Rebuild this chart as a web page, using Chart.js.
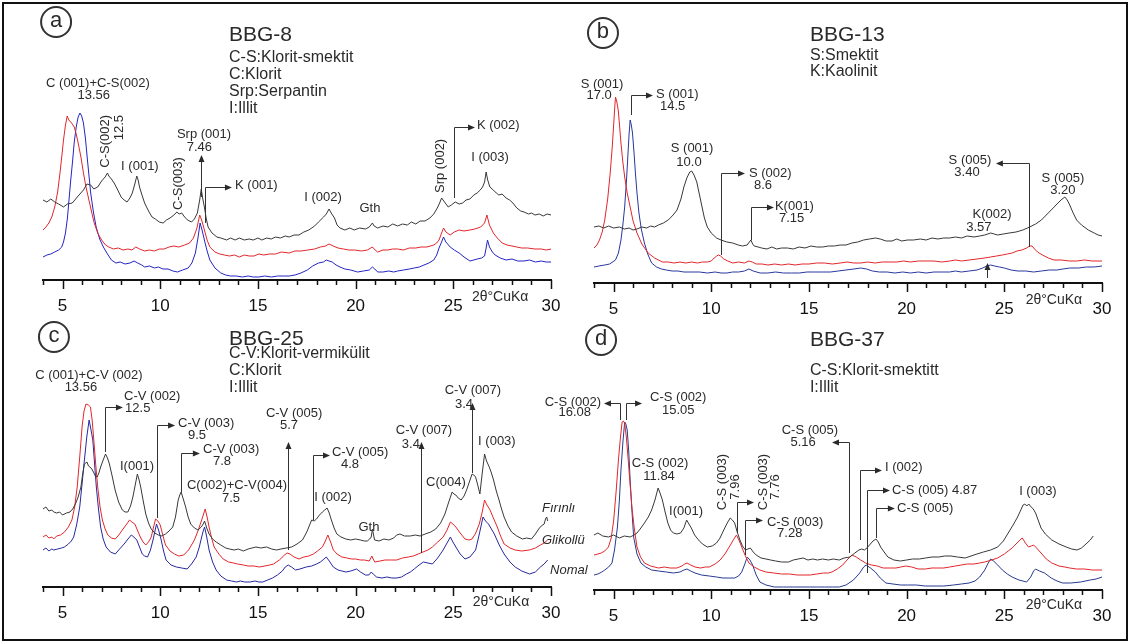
<!DOCTYPE html>
<html>
<head>
<meta charset="utf-8">
<script src="https://cdn.jsdelivr.net/npm/chart.js@4.4.1/dist/chart.umd.min.js"></script>
<style>
html, body { margin: 0; padding: 0; background: #fff; }
#fig { position: relative; width: 1130px; height: 643px; overflow: hidden; background: #fff; }
#fig canvas { position: absolute; left: 0; }
#frame { position: absolute; left: 2px; top: 2px; width: 1122px; height: 635px; border: 2px solid #111; }
</style>
</head>
<body>
<div id="fig">
  <canvas id="pa" width="1130" height="320" style="top:0"></canvas>
  <canvas id="pb" width="1130" height="320" style="top:0"></canvas>
  <canvas id="pc" width="1130" height="323" style="top:320px"></canvas>
  <canvas id="pd" width="1130" height="323" style="top:320px"></canvas>
  <div id="frame"></div>
</div>
<script>
const FONT = 'Arial, "Liberation Sans", Helvetica, sans-serif';

// intensities (a.u.) against 2θ, three treatments stacked: Fırınlı / Glikollü / Nomal
const aFirinli = [[4,80],[4.2,78],[4.4,81],[4.6,78],[4.8,76],[5.05,73],[5.25,76],[5.5,77],[5.8,84],[6.07,90],[6.25,96],[6.44,95],[6.6,91],[6.8,93],[7.0,99],[7.18,103],[7.3,107],[7.37,104],[7.5,101],[7.64,97],[7.8,91],[8.0,83],[8.15,80],[8.3,78],[8.45,82],[8.57,87],[8.7,96],[8.8,104],[8.87,100],[8.94,93],[9.05,86],[9.2,77],[9.4,69],[9.58,63],[9.75,61],[9.95,58],[10.15,57],[10.32,60],[10.5,62],[10.7,65],[10.85,68],[10.97,66],[11.1,67],[11.25,63],[11.4,60],[11.6,58],[11.75,61],[11.9,67],[12.02,80],[12.1,91],[12.17,82],[12.26,73],[12.35,62],[12.45,53],[12.65,47],[12.9,43],[13.1,42],[13.4,40],[13.6,42],[13.83,40],[14.05,42],[14.3,40],[14.55,41],[14.76,40],[15.0,42],[15.2,40],[15.45,42],[15.68,41],[15.9,43],[16.15,42],[16.4,44],[16.6,43],[16.85,45],[17.1,45],[17.35,48],[17.6,50],[17.9,54],[18.1,58],[18.36,63],[18.5,66],[18.64,71],[18.75,67],[18.92,62],[19.05,55],[19.2,52],[19.45,50],[19.7,52],[19.93,50],[20.2,52],[20.5,51],[20.7,53],[20.86,57],[20.95,54],[21.13,52],[21.4,54],[21.65,53],[21.9,56],[22.15,54],[22.4,56],[22.65,55],[22.85,58],[23.08,56],[23.3,59],[23.55,59],[23.8,62],[24.0,66],[24.18,72],[24.3,77],[24.4,82],[24.55,78],[24.74,73],[24.9,75],[25.1,78],[25.3,76],[25.48,77],[25.65,80],[25.85,81],[26.05,85],[26.22,87],[26.38,90],[26.5,93],[26.6,98],[26.68,108],[26.76,100],[26.87,93],[27.05,90],[27.2,87],[27.33,85],[27.5,86],[27.7,82],[27.88,80],[28.05,77],[28.25,72],[28.45,69],[28.62,68],[28.85,66],[29.0,67],[29.18,65],[29.4,66],[29.6,64],[29.8,66],[30,65]];
const aGlikollu = [[4,50],[4.15,53],[4.3,57],[4.45,63],[4.6,73],[4.75,88],[4.87,107],[4.97,125],[5.05,140],[5.15,155],[5.24,164],[5.32,160],[5.42,158],[5.5,156],[5.6,153],[5.7,146],[5.8,137],[5.95,122],[6.07,107],[6.2,93],[6.35,80],[6.5,67],[6.62,57],[6.8,47],[7.0,40],[7.2,35],[7.37,33],[7.6,31],[7.85,32],[8.1,30],[8.35,31],[8.55,30],[8.75,33],[8.95,31],[9.2,29],[9.45,30],[9.7,29],[9.95,31],[10.2,31],[10.45,33],[10.7,34],[10.95,33],[11.25,35],[11.5,37],[11.7,42],[11.88,52],[12.02,65],[12.12,60],[12.26,50],[12.4,40],[12.54,33],[12.8,28],[13.05,26],[13.28,25],[13.55,24],[13.8,25],[14.05,23],[14.3,25],[14.55,24],[14.8,24],[15.05,26],[15.3,25],[15.6,26],[15.9,26],[16.2,28],[16.6,27],[16.9,29],[17.2,29],[17.55,30],[17.9,31],[18.2,33],[18.45,34],[18.64,36],[18.85,34],[19.1,32],[19.38,31],[19.65,30],[19.95,30],[20.3,29],[20.6,30],[20.86,33],[21.0,30],[21.13,28],[21.4,30],[21.65,30],[21.9,31],[22.15,31],[22.45,30],[22.75,32],[23.08,32],[23.35,33],[23.65,33],[24.0,35],[24.15,37],[24.27,40],[24.4,47],[24.5,52],[24.62,48],[24.84,45],[25.05,48],[25.3,50],[25.55,49],[25.85,50],[26.1,51],[26.4,53],[26.6,57],[26.72,65],[26.85,55],[27.05,47],[27.25,42],[27.5,37],[27.75,35],[28.0,34],[28.25,33],[28.5,32],[28.8,32],[29.18,31],[29.5,31],[29.75,30],[30,31]];
const aNomal = [[4,23],[4.2,25],[4.4,26],[4.6,28],[4.8,30],[4.96,33],[5.05,38],[5.15,47],[5.25,62],[5.33,80],[5.42,100],[5.52,120],[5.6,138],[5.7,153],[5.8,163],[5.89,167],[5.98,164],[6.07,157],[6.17,142],[6.26,123],[6.35,105],[6.44,87],[6.58,68],[6.72,53],[6.9,41],[7.09,33],[7.3,26],[7.5,20],[7.73,17],[7.95,18],[8.2,16],[8.45,17],[8.66,19],[8.85,17],[9.05,15],[9.2,13],[9.45,14],[9.7,12],[9.9,13],[10.14,11],[10.4,11],[10.65,9],[10.88,8],[11.15,10],[11.43,12],[11.62,17],[11.8,27],[11.93,42],[12.04,57],[12.14,50],[12.26,40],[12.4,29],[12.54,20],[12.8,12],[13.1,7],[13.35,5],[13.6,4],[13.9,4],[14.2,3],[14.5,4],[14.76,3],[15.05,3],[15.35,4],[15.7,3],[16.0,4],[16.3,4],[16.6,4],[16.9,5],[17.2,7],[17.53,10],[17.8,14],[18.1,17],[18.35,18],[18.5,20],[18.64,19],[18.8,18],[19.0,15],[19.2,13],[19.45,11],[19.75,10],[20.1,8],[20.4,9],[20.7,10],[20.86,13],[20.98,11],[21.13,8],[21.4,8],[21.7,9],[21.95,8],[22.15,9],[22.45,10],[22.75,11],[23.0,12],[23.26,13],[23.5,15],[23.75,17],[24.0,20],[24.15,25],[24.27,32],[24.4,38],[24.5,43],[24.62,38],[24.84,33],[25.05,30],[25.3,27],[25.55,23],[25.85,19],[26.05,20],[26.22,21],[26.45,22],[26.6,24],[26.68,32],[26.75,40],[26.85,33],[27.0,28],[27.14,25],[27.4,22],[27.7,20],[28.0,21],[28.3,19],[28.62,19],[28.9,20],[29.2,18],[29.5,19],[29.75,18],[30,18]];

const bFirinli = [[4,56],[4.25,57],[4.5,55],[4.75,57],[5.0,55],[5.3,56],[5.55,54],[5.8,55],[6.0,53],[6.2,54],[6.45,56],[6.7,55],[6.9,57],[7.1,56],[7.3,58],[7.55,60],[7.8,63],[8.05,68],[8.25,73],[8.45,84],[8.6,96],[8.75,105],[8.9,111],[9.0,112],[9.12,108],[9.26,101],[9.4,88],[9.53,76],[9.65,65],[9.8,56],[10.0,50],[10.27,45],[10.5,43],[10.8,41],[11.1,40],[11.38,38],[11.6,37],[11.84,38],[11.95,41],[12.03,43],[12.12,39],[12.2,37],[12.4,36],[12.58,35],[12.85,34],[13.1,36],[13.35,34],[13.6,35],[13.9,35],[14.2,34],[14.5,36],[14.8,35],[15.1,37],[15.4,36],[15.7,36],[16.0,37],[16.3,37],[16.6,38],[16.9,38],[17.2,40],[17.5,41],[17.8,43],[18.1,44],[18.4,45],[18.65,44],[18.95,42],[19.25,42],[19.5,44],[19.75,42],[20.05,43],[20.35,43],[20.7,44],[21.0,43],[21.3,45],[21.6,44],[21.9,45],[22.2,45],[22.5,46],[22.8,45],[23.1,47],[23.45,46],[23.74,47],[24.0,48],[24.3,50],[24.48,49],[24.66,48],[24.95,49],[25.25,50],[25.6,51],[25.95,53],[26.3,56],[26.6,59],[26.9,63],[27.15,68],[27.4,73],[27.65,78],[27.9,83],[28.1,86],[28.22,83],[28.35,78],[28.5,71],[28.7,63],[28.95,58],[29.3,53],[29.6,50],[29.8,48],[30,47]];
const bGlikollu = [[4,35],[4.15,38],[4.28,43],[4.42,51],[4.55,63],[4.7,84],[4.83,110],[4.93,135],[5.0,156],[5.06,175],[5.1,186],[5.17,181],[5.24,173],[5.31,157],[5.38,140],[5.47,122],[5.57,106],[5.7,90],[5.85,76],[6.0,62],[6.2,50],[6.45,39],[6.77,30],[7.1,25],[7.5,21],[7.8,21],[8.1,20],[8.4,21],[8.7,20],[9.0,21],[9.3,20],[9.55,21],[9.8,21],[10.0,22],[10.15,25],[10.28,27],[10.36,28],[10.48,27],[10.64,24],[10.85,22],[11.1,20],[11.4,21],[11.7,20],[11.93,22],[12.1,21],[12.3,19],[12.6,19],[12.9,18],[13.25,19],[13.6,18],[13.95,19],[14.3,18],[14.65,19],[15.0,19],[15.4,20],[15.8,20],[16.2,19],[16.6,20],[16.95,21],[17.3,20],[17.65,20],[18.0,21],[18.4,20],[18.75,21],[19.1,21],[19.5,21],[19.85,22],[20.2,21],[20.6,22],[21,22],[21.4,22],[21.8,21],[22.2,22],[22.5,23],[22.8,22],[23.2,23],[23.6,24],[24.0,25],[24.3,26],[24.6,27],[24.9,28],[25.15,29],[25.4,30],[25.65,32],[25.9,33],[26.14,35],[26.3,37],[26.42,37],[26.55,34],[26.7,31],[26.95,28],[27.25,25],[27.55,23],[27.9,23],[28.35,22],[28.7,22],[29.1,23],[29.5,22],[30,22]];
const bNomal = [[4,16],[4.25,17],[4.55,18],[4.8,19],[5.1,23],[5.25,30],[5.38,43],[5.47,57],[5.57,76],[5.67,105],[5.75,133],[5.8,150],[5.85,163],[5.91,158],[5.97,150],[6.05,130],[6.12,110],[6.2,90],[6.3,70],[6.42,54],[6.58,40],[6.75,29],[6.95,20],[7.2,16],[7.45,14],[7.7,13],[8.0,12],[8.3,12],[8.6,11],[9.0,11],[9.4,11],[9.8,10],[10.2,11],[10.5,10],[10.8,10],[11.1,11],[11.4,11],[11.7,12],[11.93,14],[12.15,12],[12.5,10],[12.9,10],[13.3,11],[13.7,10],[14.1,10],[14.5,10],[14.9,11],[15.3,11],[15.7,11],[16.1,11],[16.5,12],[16.9,13],[17.3,14],[17.65,15],[17.95,14],[18.25,12],[18.6,11],[19.0,11],[19.4,10],[19.8,11],[20.2,10],[20.6,11],[21,10],[21.4,11],[21.8,11],[22.2,11],[22.5,12],[22.8,11],[23.2,12],[23.6,13],[23.9,15],[24.1,17],[24.3,18],[24.5,17],[24.75,16],[25,15],[25.35,13],[25.7,12],[26.1,12],[26.5,11],[26.9,12],[27.3,13],[27.7,13],[28.0,14],[28.35,15],[28.8,15],[29.2,16],[29.6,16],[30,17]];

const cFirinli = [[4,78],[4.15,80],[4.3,76],[4.45,77],[4.55,75],[4.7,74],[4.85,75],[5.0,72],[5.2,74],[5.38,75],[5.52,78],[5.66,83],[5.8,90],[5.94,100],[6.03,113],[6.12,123],[6.25,125],[6.33,121],[6.4,120],[6.5,118],[6.58,115],[6.68,111],[6.77,110],[6.86,114],[6.95,120],[7.08,127],[7.2,133],[7.3,129],[7.4,123],[7.55,110],[7.69,97],[7.87,85],[8.06,77],[8.2,75],[8.34,75],[8.48,81],[8.6,90],[8.72,102],[8.83,113],[8.92,107],[9.0,100],[9.13,86],[9.26,73],[9.4,64],[9.54,58],[9.72,54],[9.9,52],[10.08,51],[10.27,53],[10.45,56],[10.64,60],[10.78,70],[10.92,87],[11.0,92],[11.07,95],[11.18,88],[11.3,80],[11.43,70],[11.56,63],[11.75,59],[11.93,57],[12.1,60],[12.2,63],[12.27,66],[12.38,59],[12.5,53],[12.68,48],[12.86,45],[13.1,42],[13.35,39],[13.55,38],[13.78,37],[14.0,38],[14.25,36],[14.5,38],[14.7,39],[14.9,40],[15.15,39],[15.44,40],[15.7,38],[15.95,37],[16.18,38],[16.45,39],[16.73,40],[17.0,43],[17.28,47],[17.5,55],[17.75,67],[17.88,66],[18.0,68],[18.15,72],[18.3,75],[18.42,77],[18.54,79],[18.65,74],[18.76,67],[18.9,59],[19.04,53],[19.25,50],[19.5,48],[19.75,47],[20.0,48],[20.24,47],[20.45,46],[20.6,46],[20.72,48],[20.8,50],[20.86,58],[20.92,52],[20.97,47],[21.2,46],[21.45,48],[21.7,47],[21.95,49],[22.1,52],[22.27,53],[22.5,51],[22.8,51],[23.05,52],[23.3,51],[23.56,53],[23.85,55],[24.1,58],[24.35,64],[24.57,73],[24.75,84],[24.94,95],[25.03,93],[25.13,92],[25.25,89],[25.4,87],[25.55,91],[25.68,97],[25.82,105],[25.96,113],[26.05,112],[26.14,110],[26.25,102],[26.36,93],[26.47,112],[26.6,133],[26.7,126],[26.84,120],[26.95,114],[27.06,107],[27.2,96],[27.34,87],[27.47,78],[27.6,70],[27.8,61],[27.98,55],[28.25,51],[28.54,48],[28.75,49],[29.0,48],[29.2,53],[29.37,58],[29.5,61],[29.65,63],[29.72,68],[29.78,70],[29.83,66]];
const cGlikollu = [[4,50],[4.15,52],[4.3,49],[4.45,50],[4.55,48],[4.7,51],[4.9,52],[5.1,55],[5.3,60],[5.48,67],[5.62,80],[5.75,100],[5.88,130],[6.0,160],[6.1,176],[6.2,183],[6.32,182],[6.43,180],[6.52,166],[6.6,147],[6.7,122],[6.8,100],[6.92,80],[7.04,67],[7.18,58],[7.32,52],[7.5,49],[7.7,48],[7.88,52],[8.06,57],[8.25,62],[8.43,67],[8.55,65],[8.7,63],[8.85,56],[8.98,50],[9.12,45],[9.26,42],[9.4,45],[9.54,50],[9.66,60],[9.76,68],[9.88,66],[10.0,62],[10.13,52],[10.27,42],[10.5,36],[10.73,33],[10.95,31],[11.2,32],[11.45,37],[11.75,47],[11.95,57],[12.12,67],[12.22,73],[12.3,78],[12.4,70],[12.5,60],[12.63,49],[12.76,40],[13.0,33],[13.22,28],[13.5,25],[13.75,24],[13.96,23],[14.25,22],[14.5,21],[14.8,21],[15.07,20],[15.35,21],[15.6,22],[15.8,23],[16.1,27],[16.36,32],[16.5,34],[16.64,33],[16.85,30],[17.1,28],[17.35,30],[17.6,31],[17.84,33],[18.05,36],[18.3,40],[18.45,46],[18.58,52],[18.72,45],[18.86,37],[19.05,33],[19.3,30],[19.55,29],[19.8,28],[20.0,28],[20.24,27],[20.45,27],[20.7,26],[20.83,31],[20.9,28],[20.98,25],[21.25,26],[21.5,27],[21.8,27],[22.1,27],[22.4,29],[22.7,30],[22.95,31],[23.2,33],[23.45,35],[23.7,37],[23.93,40],[24.2,45],[24.48,50],[24.68,57],[24.85,65],[24.98,63],[25.13,60],[25.35,54],[25.6,48],[25.8,47],[25.96,48],[26.15,54],[26.33,63],[26.48,75],[26.6,87],[26.72,82],[26.88,77],[27.05,69],[27.25,60],[27.42,51],[27.6,43],[27.9,39],[28.17,37],[28.5,36],[28.9,37],[29.2,39],[29.46,42],[29.65,44],[29.83,47]];
const cNomal = [[4,37],[4.15,39],[4.3,36],[4.45,38],[4.55,37],[4.75,38],[4.95,39],[5.1,40],[5.3,43],[5.45,46],[5.57,50],[5.72,62],[5.88,80],[6.0,103],[6.12,127],[6.24,150],[6.36,167],[6.45,158],[6.55,147],[6.64,123],[6.73,100],[6.84,78],[6.95,60],[7.08,48],[7.23,40],[7.45,35],[7.7,33],[7.92,38],[8.15,43],[8.35,48],[8.52,52],[8.65,50],[8.8,47],[8.94,40],[9.08,33],[9.2,31],[9.35,30],[9.5,37],[9.63,47],[9.72,55],[9.81,63],[9.93,56],[10.05,47],[10.17,36],[10.3,27],[10.55,22],[10.83,20],[11.1,19],[11.38,18],[11.6,23],[11.84,30],[12.0,40],[12.12,50],[12.2,56],[12.27,60],[12.38,50],[12.5,37],[12.68,25],[12.86,17],[13.1,11],[13.4,7],[13.65,6],[13.9,5],[14.1,6],[14.33,5],[14.6,5],[14.85,6],[15.05,5],[15.25,5],[15.5,7],[15.75,9],[16.0,12],[16.25,16],[16.4,20],[16.55,22],[16.72,20],[16.92,17],[17.15,18],[17.47,20],[17.75,21],[18.0,23],[18.2,25],[18.38,28],[18.5,30],[18.65,26],[18.86,20],[19.1,17],[19.3,16],[19.5,15],[19.75,16],[20.05,18],[20.25,15],[20.5,12],[20.68,12],[20.8,15],[20.9,13],[21.07,10],[21.35,9],[21.6,10],[21.85,9],[22.1,9],[22.35,10],[22.6,13],[22.8,15],[23.0,18],[23.25,22],[23.47,25],[23.7,24],[23.93,23],[24.2,29],[24.48,37],[24.68,44],[24.85,50],[24.98,45],[25.13,40],[25.35,33],[25.6,28],[25.85,30],[26.14,37],[26.32,52],[26.52,70],[26.65,66],[26.8,63],[26.95,58],[27.1,53],[27.35,42],[27.6,33],[27.9,25],[28.17,20],[28.5,16],[28.9,13],[29.2,15],[29.46,20],[29.65,23],[29.83,27]];

const dFirinli = [[4,55],[4.2,57],[4.45,54],[4.74,53],[5.0,55],[5.3,52],[5.55,54],[5.85,53],[6.05,55],[6.2,57],[6.4,62],[6.58,67],[6.78,73],[6.95,80],[7.12,90],[7.28,102],[7.38,97],[7.5,90],[7.64,78],[7.78,67],[7.92,60],[8.06,57],[8.25,56],[8.43,57],[8.6,62],[8.74,70],[8.86,66],[8.98,62],[9.15,55],[9.35,50],[9.55,46],[9.8,43],[10.05,44],[10.27,47],[10.45,52],[10.64,60],[10.82,67],[10.97,72],[11.08,70],[11.2,67],[11.33,58],[11.47,50],[11.6,44],[11.75,40],[11.88,41],[12.0,42],[12.15,38],[12.3,35],[12.55,32],[12.8,31],[13.04,30],[13.3,29],[13.6,28],[13.96,28],[14.2,30],[14.45,31],[14.7,32],[14.95,30],[15.2,31],[15.44,30],[15.7,31],[16.0,30],[16.25,31],[16.55,30],[16.8,32],[17.1,33],[17.35,37],[17.56,40],[17.7,41],[17.84,40],[17.97,42],[18.1,45],[18.28,49],[18.43,51],[18.55,48],[18.67,43],[18.85,38],[19.04,33],[19.35,30],[19.68,29],[20.0,30],[20.3,31],[20.65,31],[20.97,32],[21.3,33],[21.65,33],[21.95,34],[22.27,34],[22.6,33],[23.0,32],[23.3,34],[23.6,36],[23.93,38],[24.3,40],[24.66,43],[24.95,49],[25.2,57],[25.45,65],[25.68,73],[25.82,79],[25.96,85],[26.05,86],[26.15,84],[26.25,86],[26.33,84],[26.48,81],[26.6,77],[26.75,69],[26.88,62],[27.1,56],[27.43,50],[27.8,46],[28.17,43],[28.45,41],[28.72,40],[28.95,42],[29.18,46],[29.4,50],[29.55,54]];
const dGlikollu = [[4,35],[4.2,36],[4.37,37],[4.55,39],[4.74,43],[4.88,52],[5.01,70],[5.13,98],[5.25,130],[5.35,152],[5.44,168],[5.5,169],[5.57,167],[5.66,152],[5.75,130],[5.85,105],[5.94,83],[6.06,62],[6.2,43],[6.38,33],[6.58,27],[6.9,24],[7.3,22],[7.6,23],[7.9,22],[8.24,22],[8.5,24],[8.64,26],[8.76,27],[8.95,25],[9.17,23],[9.45,22],[9.7,23],[9.9,23],[10.2,26],[10.46,30],[10.7,36],[10.92,43],[11.1,49],[11.29,55],[11.42,50],[11.56,43],[11.75,34],[11.93,27],[12.2,23],[12.49,20],[12.8,18],[13.2,17],[13.6,16],[14.0,16],[14.4,15],[14.75,15],[15.07,15],[15.4,16],[15.75,17],[16.0,17],[16.18,18],[16.45,21],[16.73,25],[16.95,30],[17.2,35],[17.42,33],[17.65,30],[17.9,27],[18.2,25],[18.5,24],[18.8,22],[19.13,22],[19.45,22],[19.7,23],[19.96,24],[20.25,23],[20.6,21],[20.95,21],[21.3,22],[21.6,22],[21.9,22],[22.2,23],[22.5,24],[22.8,25],[23.1,26],[23.45,26],[23.74,27],[24.0,28],[24.35,30],[24.66,32],[25.0,36],[25.2,39],[25.4,42],[25.65,47],[25.8,50],[25.92,52],[26.08,47],[26.24,43],[26.38,44],[26.5,45],[26.7,41],[26.88,37],[27.15,31],[27.43,27],[27.8,24],[28.1,23],[28.35,22],[28.7,21],[29.1,21],[29.5,20],[30,20]];
const dNomal = [[4,15],[4.2,16],[4.4,18],[4.55,20],[4.75,23],[4.92,27],[5.05,40],[5.2,63],[5.3,90],[5.38,120],[5.48,148],[5.57,168],[5.63,166],[5.7,160],[5.78,138],[5.85,110],[5.94,80],[6.03,53],[6.2,36],[6.4,27],[6.65,23],[6.95,20],[7.3,19],[7.7,18],[8.06,17],[8.4,18],[8.6,20],[8.76,21],[8.95,19],[9.17,17],[9.5,15],[9.9,14],[10.27,13],[10.6,12],[10.9,12],[11.2,12],[11.4,14],[11.56,18],[11.72,26],[11.84,33],[11.98,30],[12.12,25],[12.3,15],[12.49,8],[12.8,5],[13.23,3],[13.7,3],[14.2,3],[14.7,3],[15.1,3],[15.44,3],[15.8,3],[16.2,3],[16.55,3],[16.9,5],[17.28,10],[17.6,17],[17.8,23],[17.93,25],[18.15,22],[18.4,18],[18.65,12],[18.94,7],[19.3,6],[19.7,5],[20.05,5],[20.5,5],[20.95,4],[21.4,4],[21.9,4],[22.4,5],[22.8,6],[23.2,7],[23.5,9],[23.74,13],[24.0,20],[24.15,26],[24.3,31],[24.45,29],[24.66,25],[24.9,20],[25.15,16],[25.4,13],[25.75,10],[26.14,8],[26.35,13],[26.5,19],[26.6,21],[26.8,19],[27.06,17],[27.4,12],[27.7,9],[27.99,7],[28.4,7],[28.9,8],[29.4,10],[29.7,11],[30,13]];

const thetaTicks = [4,5,6,7,8,9,10,11,12,13,14,15,16,17,18,19,20,21,22,23,24,25,26,27,28,29,30];

// annotations, placed in (2θ, intensity) units
const aNotes = [
  {k:'circ', s:'a', x:4.67, y:258},
  {k:'t', s:'BBG-8', x:13.52, y:245, a:'l', f:21},
  {k:'t', s:'C-S:Klorit-smektit', x:13.52, y:222, a:'l', f:16},
  {k:'t', s:'C:Klorit', x:13.52, y:205, a:'l', f:16},
  {k:'t', s:'Srp:Serpantin', x:13.52, y:188, a:'l', f:16},
  {k:'t', s:'I:Illit', x:13.52, y:171, a:'l', f:16},
  {k:'t', s:'C (001)+C-S(002)', x:6.81, y:197},
  {k:'t', s:'13.56', x:6.6, y:185},
  {k:'r', s:'C-S(002)', x:7.22, y:165, a:'r'},
  {k:'r', s:'12.5', x:7.89, y:165, a:'r'},
  {k:'t', s:'I (001)', x:8.96, y:114},
  {k:'r', s:'C-S(003)', x:10.91, y:70, a:'l'},
  {k:'t', s:'Srp (001)', x:12.24, y:146},
  {k:'t', s:'7.46', x:12.0, y:133},
  {k:'up', x:12.09, y1:83, y2:125},
  {k:'el', x:12.29, y1:57, y2:93, x2:13.67},
  {k:'t', s:'K (001)', x:13.83, y:95, a:'l'},
  {k:'t', s:'I (002)', x:18.33, y:83},
  {k:'t', s:'Gth', x:20.73, y:72},
  {k:'r', s:'Srp (002)', x:24.32, y:87, a:'l'},
  {k:'el', x:25.03, y1:82, y2:153, x2:26.11},
  {k:'t', s:'K (002)', x:26.21, y:155, a:'l'},
  {k:'t', s:'I (003)', x:26.88, y:123},
  {k:'t', s:'2θ°CuKα', x:27.4, y:-17, f:14}
];
const bNotes = [
  {k:'circ', s:'b', x:4.46, y:250},
  {k:'t', s:'BBG-13', x:15.05, y:248, a:'l', f:21},
  {k:'t', s:'S:Smektit', x:15.05, y:227, a:'l', f:16},
  {k:'t', s:'K:Kaolinit', x:15.05, y:211, a:'l', f:16},
  {k:'t', s:'S (001)', x:4.41, y:199},
  {k:'t', s:'17.0', x:4.26, y:188},
  {k:'el', x:5.89, y1:168, y2:188, x2:7.02},
  {k:'t', s:'S (001)', x:7.17, y:189, a:'l'},
  {k:'t', s:'14.5', x:7.38, y:177, a:'l'},
  {k:'t', s:'S (001)', x:9.02, y:135},
  {k:'t', s:'10.0', x:8.86, y:121},
  {k:'el', x:10.5, y1:28, y2:110, x2:11.73},
  {k:'t', s:'S (002)', x:11.93, y:110, a:'l'},
  {k:'t', s:'8.6', x:12.19, y:98, a:'l'},
  {k:'el', x:12.03, y1:43, y2:76, x2:13.21},
  {k:'t', s:'K(001)', x:13.26, y:77, a:'l'},
  {k:'t', s:'7.15', x:13.47, y:65, a:'l'},
  {k:'t', s:'K(002)', x:24.37, y:69},
  {k:'t', s:'3.57', x:23.7, y:56},
  {k:'up', x:24.11, y1:5, y2:20},
  {k:'el', x:26.26, y1:36, y2:120, x2:24.57},
  {k:'t', s:'S (005)', x:23.24, y:123},
  {k:'t', s:'3.40', x:23.09, y:111},
  {k:'t', s:'S (005)', x:28.0, y:105},
  {k:'t', s:'3.20', x:28.0, y:93},
  {k:'t', s:'2θ°CuKα', x:27.54, y:-17, f:14}
];
const cNotes = [
  {k:'circ', s:'c', x:4.56, y:250},
  {k:'t', s:'BBG-25', x:13.52, y:248, a:'l', f:21},
  {k:'t', s:'C-V:Klorit-vermikülit', x:13.52, y:233, a:'l', f:16},
  {k:'t', s:'C:Klorit', x:13.52, y:216, a:'l', f:16},
  {k:'t', s:'I:Illit', x:13.52, y:199, a:'l', f:16},
  {k:'t', s:'C (001)+C-V (002)', x:6.35, y:212},
  {k:'t', s:'13.56', x:5.94, y:200},
  {k:'el', x:7.17, y1:135, y2:180, x2:8.09},
  {k:'t', s:'C-V (002)', x:8.15, y:191, a:'l'},
  {k:'t', s:'12.5', x:8.2, y:179, a:'l'},
  {k:'t', s:'I(001)', x:8.81, y:121},
  {k:'el', x:9.83, y1:69, y2:162, x2:10.76},
  {k:'t', s:'C-V (003)', x:10.91, y:164, a:'l'},
  {k:'t', s:'9.5', x:11.42, y:152, a:'l'},
  {k:'el', x:11.06, y1:95, y2:134, x2:12.03},
  {k:'t', s:'C-V (003)', x:12.19, y:138, a:'l'},
  {k:'t', s:'7.8', x:12.7, y:126, a:'l'},
  {k:'t', s:'C(002)+C-V(004)', x:13.93, y:102},
  {k:'t', s:'7.5', x:13.62, y:89},
  {k:'up', x:16.54, y1:37, y2:145},
  {k:'t', s:'C-V (005)', x:16.85, y:174},
  {k:'t', s:'5.7', x:16.59, y:162},
  {k:'el', x:17.82, y1:67, y2:132, x2:18.69},
  {k:'t', s:'C-V (005)', x:18.79, y:135, a:'l'},
  {k:'t', s:'4.8', x:19.25, y:123, a:'l'},
  {k:'t', s:'I (002)', x:18.84, y:90},
  {k:'t', s:'Gth', x:20.68, y:60},
  {k:'up', x:23.34, y1:34, y2:145},
  {k:'t', s:'C-V (007)', x:23.5, y:157},
  {k:'t', s:'3.4', x:22.83, y:143},
  {k:'up', x:25.95, y1:114, y2:184},
  {k:'t', s:'C-V (007)', x:26.0, y:197},
  {k:'t', s:'3.4', x:25.55, y:183},
  {k:'t', s:'I (003)', x:27.23, y:146},
  {k:'t', s:'C(004)', x:24.62, y:105},
  {k:'t', s:'Fırınlı', x:29.54, y:79, a:'l', it:true},
  {k:'t', s:'Glikollü', x:29.54, y:47, a:'l', it:true},
  {k:'t', s:'Nomal', x:29.95, y:17, a:'l', it:true},
  {k:'t', s:'2θ°CuKα', x:27.44, y:-15, f:14}
];
const dNotes = [
  {k:'circ', s:'d', x:4.36, y:250},
  {k:'t', s:'BBG-37', x:15.05, y:250, a:'l', f:21},
  {k:'t', s:'C-S:Klorit-smektitt', x:15.05, y:219, a:'l', f:16},
  {k:'t', s:'I:Illit', x:15.05, y:202, a:'l', f:16},
  {k:'t', s:'C-S (002)', x:4.36, y:188, a:'r'},
  {k:'t', s:'16.08', x:3.85, y:178, a:'r'},
  {k:'el', x:5.33, y1:170, y2:187, x2:4.51},
  {k:'el', x:5.64, y1:170, y2:187, x2:6.46},
  {k:'t', s:'C-S (002)', x:6.87, y:193, a:'l'},
  {k:'t', s:'15.05', x:7.48, y:180, a:'l'},
  {k:'t', s:'C-S (002)', x:7.38, y:127},
  {k:'t', s:'11.84', x:7.33, y:114},
  {k:'t', s:'I(001)', x:8.71, y:79},
  {k:'r', s:'C-S (003)', x:10.55, y:108, a:'c'},
  {k:'r', s:'7.96', x:11.22, y:103, a:'c'},
  {k:'r', s:'C-S (003)', x:12.65, y:108, a:'c'},
  {k:'r', s:'7.76', x:13.26, y:103, a:'c'},
  {k:'el', x:11.32, y1:57, y2:88, x2:12.19},
  {k:'el', x:11.73, y1:35, y2:70, x2:12.65},
  {k:'t', s:'C-S (003)', x:12.85, y:68, a:'l'},
  {k:'t', s:'7.28', x:13.37, y:57, a:'l'},
  {k:'t', s:'C-S (005)', x:15.05, y:160},
  {k:'t', s:'5.16', x:14.7, y:148},
  {k:'el', x:17.05, y1:37, y2:148, x2:16.18},
  {k:'el', x:17.61, y1:50, y2:120, x2:18.74},
  {k:'t', s:'I (002)', x:18.89, y:123, a:'l'},
  {k:'el', x:17.97, y1:17, y2:100, x2:19.15},
  {k:'t', s:'C-S (005) 4.87', x:19.25, y:100, a:'l'},
  {k:'el', x:18.43, y1:52, y2:82, x2:19.4},
  {k:'t', s:'C-S (005)', x:19.51, y:82, a:'l'},
  {k:'t', s:'I (003)', x:26.72, y:99},
  {k:'t', s:'2θ°CuKα', x:27.54, y:-15, f:14}
];

const INK = '#2a2a2a';

function head(c, x, y, dx, dy) {
  const L = 7, W = 3;
  c.beginPath();
  c.moveTo(x, y);
  c.lineTo(x - dx * L - dy * W, y - dy * L + dx * W);
  c.lineTo(x - dx * L + dy * W, y - dy * L - dx * W);
  c.closePath();
  c.fill();
}

const tickMarks = {
  id: 'tickMarks',
  afterDraw(chart) {
    const c = chart.ctx, xs = chart.scales.x, y0 = chart.chartArea.bottom;
    c.save();
    c.strokeStyle = '#111';
    c.lineWidth = 1.5;
    for (const v of thetaTicks) {
      const px = Math.round(xs.getPixelForValue(v)) + 0.5;
      c.beginPath();
      c.moveTo(px, y0);
      c.lineTo(px, y0 + (v % 5 === 0 ? 9 : 5));
      c.stroke();
    }
    c.restore();
  }
};

function notesPlugin(items) {
  return {
    id: 'notes',
    afterDraw(chart) {
      const c = chart.ctx, xs = chart.scales.x, ys = chart.scales.y;
      const X = v => xs.getPixelForValue(v), Y = v => ys.getPixelForValue(v);
      c.save();
      c.fillStyle = INK;
      c.strokeStyle = '#333';
      c.lineWidth = 1;
      for (const n of items) {
        const size = n.f || 13;
        c.font = (n.it ? 'italic ' : '') + size + 'px ' + FONT;
        if (n.k === 't') {
          c.textAlign = n.a === 'l' ? 'left' : n.a === 'r' ? 'right' : 'center';
          c.textBaseline = 'middle';
          c.fillText(n.s, X(n.x), Y(n.y));
        } else if (n.k === 'r') {
          c.save();
          c.translate(X(n.x), Y(n.y));
          c.rotate(-Math.PI / 2);
          c.textAlign = n.a === 'l' ? 'left' : n.a === 'r' ? 'right' : 'center';
          c.textBaseline = 'middle';
          c.fillText(n.s, 0, 0);
          c.restore();
        } else if (n.k === 'up') {
          const px = Math.round(X(n.x)) + 0.5;
          c.beginPath();
          c.moveTo(px, Y(n.y1));
          c.lineTo(px, Y(n.y2) + 5);
          c.stroke();
          head(c, px, Y(n.y2), 0, -1);
        } else if (n.k === 'el') {
          const px = Math.round(X(n.x)) + 0.5, py = Math.round(Y(n.y2)) + 0.5;
          const tx = X(n.x2), dir = tx > px ? 1 : -1;
          c.beginPath();
          c.moveTo(px, Y(n.y1));
          c.lineTo(px, py);
          c.lineTo(tx - dir * 5, py);
          c.stroke();
          head(c, tx, py, dir, 0);
        } else if (n.k === 'circ') {
          c.lineWidth = 2;
          c.beginPath();
          c.arc(X(n.x), Y(n.y), 15, 0, Math.PI * 2);
          c.stroke();
          c.lineWidth = 1;
          c.font = '22px ' + FONT;
          c.textAlign = 'center';
          c.textBaseline = 'middle';
          c.fillText(n.s, X(n.x), Y(n.y) - 1);
        }
      }
      c.restore();
    }
  };
}

function makePanel(id, left, right, axisY, series, notes) {
  const canvas = document.getElementById(id);
  const W = canvas.width, H = canvas.height;
  new Chart(canvas, {
    type: 'line',
    data: {
      datasets: series.map(s => ({
        data: s.pts.map(p => ({ x: p[0], y: p[1] })),
        borderColor: s.color,
        borderWidth: 1,
        pointRadius: 0,
        tension: 0,
        fill: false,
        clip: false
      }))
    },
    options: {
      responsive: false,
      animation: false,
      events: [],
      layout: { padding: { left: left, right: W - right, top: 0, bottom: 0 } },
      plugins: { legend: { display: false }, tooltip: { enabled: false } },
      scales: {
        x: {
          type: 'linear',
          min: 4,
          max: 30,
          afterFit(scale) { scale.height = H - axisY; },
          ticks: {
            stepSize: 1,
            autoSkip: false,
            maxRotation: 0,
            padding: 16,
            color: '#111',
            font: { size: 17, family: FONT },
            callback: v => (v % 5 === 0 ? String(v) : '')
          },
          grid: { display: false, drawTicks: false, tickLength: 0 },
          border: { display: true, color: '#111', width: 2 }
        },
        y: { display: false, min: 0, max: axisY }
      }
    },
    plugins: [tickMarks, notesPlugin(notes)]
  });
}

const BLACK = '#383838', RED = '#e2262b';
makePanel('pa', 43, 551, 280, [
  { pts: aFirinli, color: BLACK }, { pts: aGlikollu, color: RED }, { pts: aNomal, color: '#2424c4' }
], aNotes);
makePanel('pb', 594, 1102, 283, [
  { pts: bFirinli, color: BLACK }, { pts: bGlikollu, color: RED }, { pts: bNomal, color: '#28379e' }
], bNotes);
makePanel('pc', 43, 551, 267, [
  { pts: cFirinli, color: BLACK }, { pts: cGlikollu, color: RED }, { pts: cNomal, color: '#27279e' }
], cNotes);
makePanel('pd', 594, 1102, 270, [
  { pts: dFirinli, color: BLACK }, { pts: dGlikollu, color: RED }, { pts: dNomal, color: '#263a8f' }
], dNotes);
</script>
</body>
</html>
